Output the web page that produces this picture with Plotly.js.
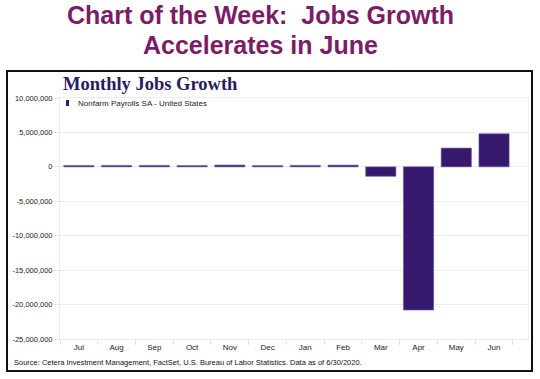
<!DOCTYPE html>
<html>
<head>
<meta charset="utf-8">
<script src="https://cdn.plot.ly/plotly-3.0.1.min.js"></script>
<style>
html,body{margin:0;padding:0;background:#fff;}
#chart{width:540px;height:379px;}
</style>
</head>
<body>
<div id="chart"></div>
<script>
const months = ["Jul","Aug","Sep","Oct","Nov","Dec","Jan","Feb","Mar","Apr","May","Jun"];
const payrolls = [194000, 207000, 208000, 185000, 261000, 184000, 214000, 251000, -1373000, -20787000, 2725000, 4800000];
const seriesName = "Nonfarm Payrolls SA - United States";
const yTicks = [10000000, 5000000, 0, -5000000, -10000000, -15000000, -20000000, -25000000];
const yTickText = ["10,000,000","5,000,000","0","-5,000,000","-10,000,000","-15,000,000","-20,000,000","-25,000,000"];

// layout geometry (pixels)
const W = 540, H = 379, L = 60, R = 12, T = 98, B = 40;
const pw = W - L - R, ph = H - T - B;
const px = x => (x - L) / pw;
const py = y => (H - B - y) / ph;

const barColor = "#36196c";

const trace = {
  type: "bar",
  x: months,
  y: payrolls,
  name: seriesName,
  marker: {color: barColor, line: {color: "#6f55a6", width: 0.6}},
  showlegend: false,
  hoverinfo: "x+y"
};

const layout = {
  width: W, height: H,
  margin: {l: L, r: R, t: T, b: B, pad: 0},
  paper_bgcolor: "#ffffff",
  plot_bgcolor: "#ffffff",
  bargap: 0.2,
  font: {family: "Arial, Liberation Sans, sans-serif", size: 8, color: "#222"},
  xaxis: {
    type: "category",
    range: [-0.5, 11.9],
    showgrid: false,
    zeroline: false,
    ticks: "outside",
    tickson: "boundaries",
    ticklen: 5,
    tickcolor: "#e2e2e2",
    tickfont: {size: 8, color: "#222"},
    showline: true,
    linecolor: "#ececec",
    mirror: true,
    fixedrange: true
  },
  yaxis: {
    range: [-25000000, 10000000],
    tickvals: yTicks,
    ticktext: yTickText,
    showgrid: true,
    gridcolor: "#ececec",
    zeroline: true,
    zerolinecolor: "#ececec",
    zerolinewidth: 1,
    ticks: "outside",
    ticklen: 5,
    tickcolor: "#e2e2e2",
    tickfont: {size: 7.5, color: "#222"},
    showline: true,
    linecolor: "#ececec",
    mirror: true,
    fixedrange: true
  },
  shapes: [
    {type: "rect", xref: "paper", yref: "paper",
     x0: px(7), x1: px(532), y0: py(371), y1: py(71),
     line: {color: "#111", width: 2}, fillcolor: "rgba(0,0,0,0)", layer: "above"},
    // legend key
    {type: "rect", xref: "paper", yref: "paper",
     x0: px(66), x1: px(69), y0: py(106), y1: py(100),
     line: {width: 0}, fillcolor: barColor}
  ],
  annotations: [
    {xref: "paper", yref: "paper", x: px(260), y: py(15), xanchor: "center", yanchor: "middle",
     text: "<b>Chart of the Week:  Jobs Growth</b>", showarrow: false,
     font: {family: "Arial, Liberation Sans, sans-serif", size: 25, color: "#7b1c66"}},
    {xref: "paper", yref: "paper", x: px(260), y: py(45), xanchor: "center", yanchor: "middle",
     text: "<b>Accelerates in June</b>", showarrow: false,
     font: {family: "Arial, Liberation Sans, sans-serif", size: 25, color: "#7b1c66"}},
    {xref: "paper", yref: "paper", x: px(61), y: py(84), xanchor: "left", yanchor: "middle",
     text: "<b>Monthly Jobs Growth</b>", showarrow: false,
     font: {family: "Liberation Serif, DejaVu Serif, serif", size: 18.5, color: "#2a1a5e"}},
    {xref: "paper", yref: "paper", x: px(76), y: py(103), xanchor: "left", yanchor: "middle",
     text: seriesName, showarrow: false,
     font: {family: "Arial, Liberation Sans, sans-serif", size: 8, color: "#222"}},
    {xref: "paper", yref: "paper", x: px(12), y: py(362), xanchor: "left", yanchor: "middle",
     text: "Source: Cetera Investment Management, FactSet, U.S. Bureau of Labor Statistics. Data as of 6/30/2020.",
     showarrow: false,
     font: {family: "Arial, Liberation Sans, sans-serif", size: 7.5, color: "#111"}}
  ]
};

Plotly.newPlot("chart", [trace], layout, {displayModeBar: false, staticPlot: true});
</script>
</body>
</html>
